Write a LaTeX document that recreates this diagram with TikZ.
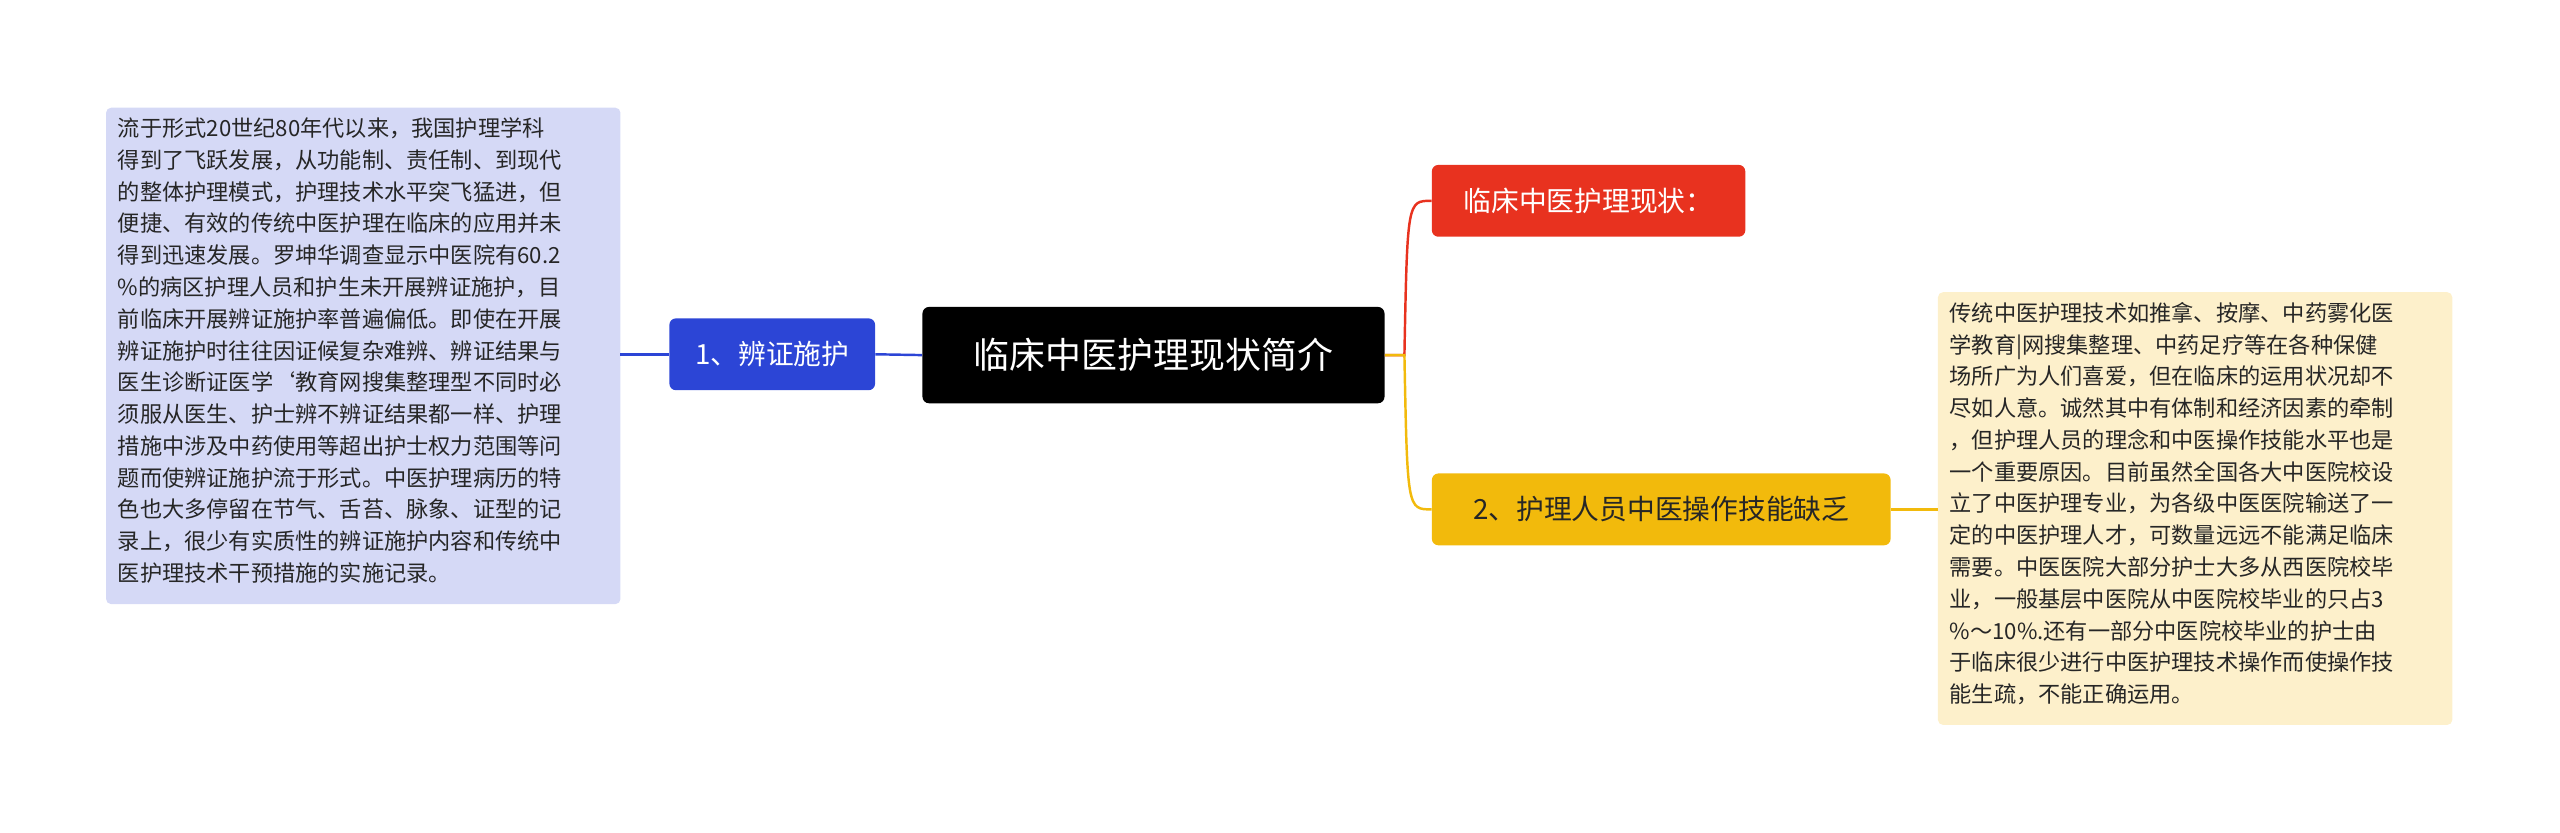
\documentclass[tikz,border=0pt]{standalone}
\usepackage{fontspec}
\setmainfont{Noto Sans CJK SC}
\definecolor{lav}{HTML}{D5D9F6}
\definecolor{bluec}{HTML}{2C45D6}
\definecolor{redc}{HTML}{E8321F}
\definecolor{yelc}{HTML}{F2BA0C}
\definecolor{cream}{HTML}{FDF0CB}
\begin{document}
\begin{tikzpicture}[x=1pt,y=-1pt,
  txtbox/.style={rounded corners=3pt,inner sep=0pt,anchor=north west,align=left,font=\fontsize{13.6}{19.45}\selectfont,text=black!85},
  topic/.style={rounded corners=4pt,inner sep=0pt,font=\fontsize{17}{20}\selectfont}]
\useasboundingbox (0,0) rectangle (1568,510);
\fill[lav,rounded corners=3pt] (65,66) rectangle (380,370);
\fill[cream,rounded corners=3pt] (1187,179) rectangle (1502,444);
\node[txtbox] (lt) at (72,72) {流于形式20世纪80年代以来，我国护理学科\\得到了飞跃发展，从功能制、责任制、到现代\\的整体护理模式，护理技术水平突飞猛进，但\\便捷、有效的传统中医护理在临床的应用并未\\得到迅速发展。罗坤华调查显示中医院有60.2\\\%的病区护理人员和护生未开展辨证施护，目\\前临床开展辨证施护率普遍偏低。即使在开展\\辨证施护时往往因证候复杂难辨、辨证结果与\\医生诊断证医学`教育网搜集整理型不同时必\\须服从医生、护士辨不辨证结果都一样、护理\\措施中涉及中药使用等超出护士权力范围等问\\题而使辨证施护流于形式。中医护理病历的特\\色也大多停留在节气、舌苔、脉象、证型的记\\录上，很少有实质性的辨证施护内容和传统中\\医护理技术干预措施的实施记录。};
\node[txtbox] (rt) at (1194,185) {传统中医护理技术如推拿、按摩、中药雾化医\\学教育|网搜集整理、中药足疗等在各种保健\\场所广为人们喜爱，但在临床的运用状况却不\\尽如人意。诚然其中有体制和经济因素的牵制\\，但护理人员的理念和中医操作技能水平也是\\一个重要原因。目前虽然全国各大中医院校设\\立了中医护理专业，为各级中医医院输送了一\\定的中医护理人才，可数量远远不能满足临床\\需要。中医医院大部分护士大多从西医院校毕\\业，一般基层中医院从中医院校毕业的只占3\\\%～10\%.还有一部分中医院校毕业的护士由\\于临床很少进行中医护理技术操作而使操作技\\能生疏，不能正确运用。};
\coordinate (ltr) at (380,217);
\coordinate (rtl) at (1187,312);
\node[topic,fill=black,text=white,minimum width=283,minimum height=59,font=\fontsize{22}{26}\selectfont] (c) at (706.5,217.5) {临床中医护理现状简介};
\node[topic,fill=bluec,text=white,minimum width=126,minimum height=44] (n1) at (473,217) {1、辨证施护};
\node[topic,fill=redc,text=white,minimum width=192,minimum height=44] (n2) at (973,123) {临床中医护理现状：};
\node[topic,fill=yelc,text=black!85,minimum width=281,minimum height=44] (n3) at (1017.5,312) {2、护理人员中医操作技能缺乏};
\draw[bluec,line width=1.5] (c.west) -- (n1.east);
\draw[bluec,line width=1.5] (n1.west) -- (ltr);
\draw[redc,line width=1.5] (c.east) -- ++(12,0) .. controls (862,123) and (862,123) .. (n2.west);
\draw[yelc,line width=1.5] (c.east) -- ++(12,0) .. controls (862,312) and (862,312) .. (n3.west);
\draw[yelc,line width=1.5] (n3.east) -- (rtl);
\end{tikzpicture}
\end{document}
